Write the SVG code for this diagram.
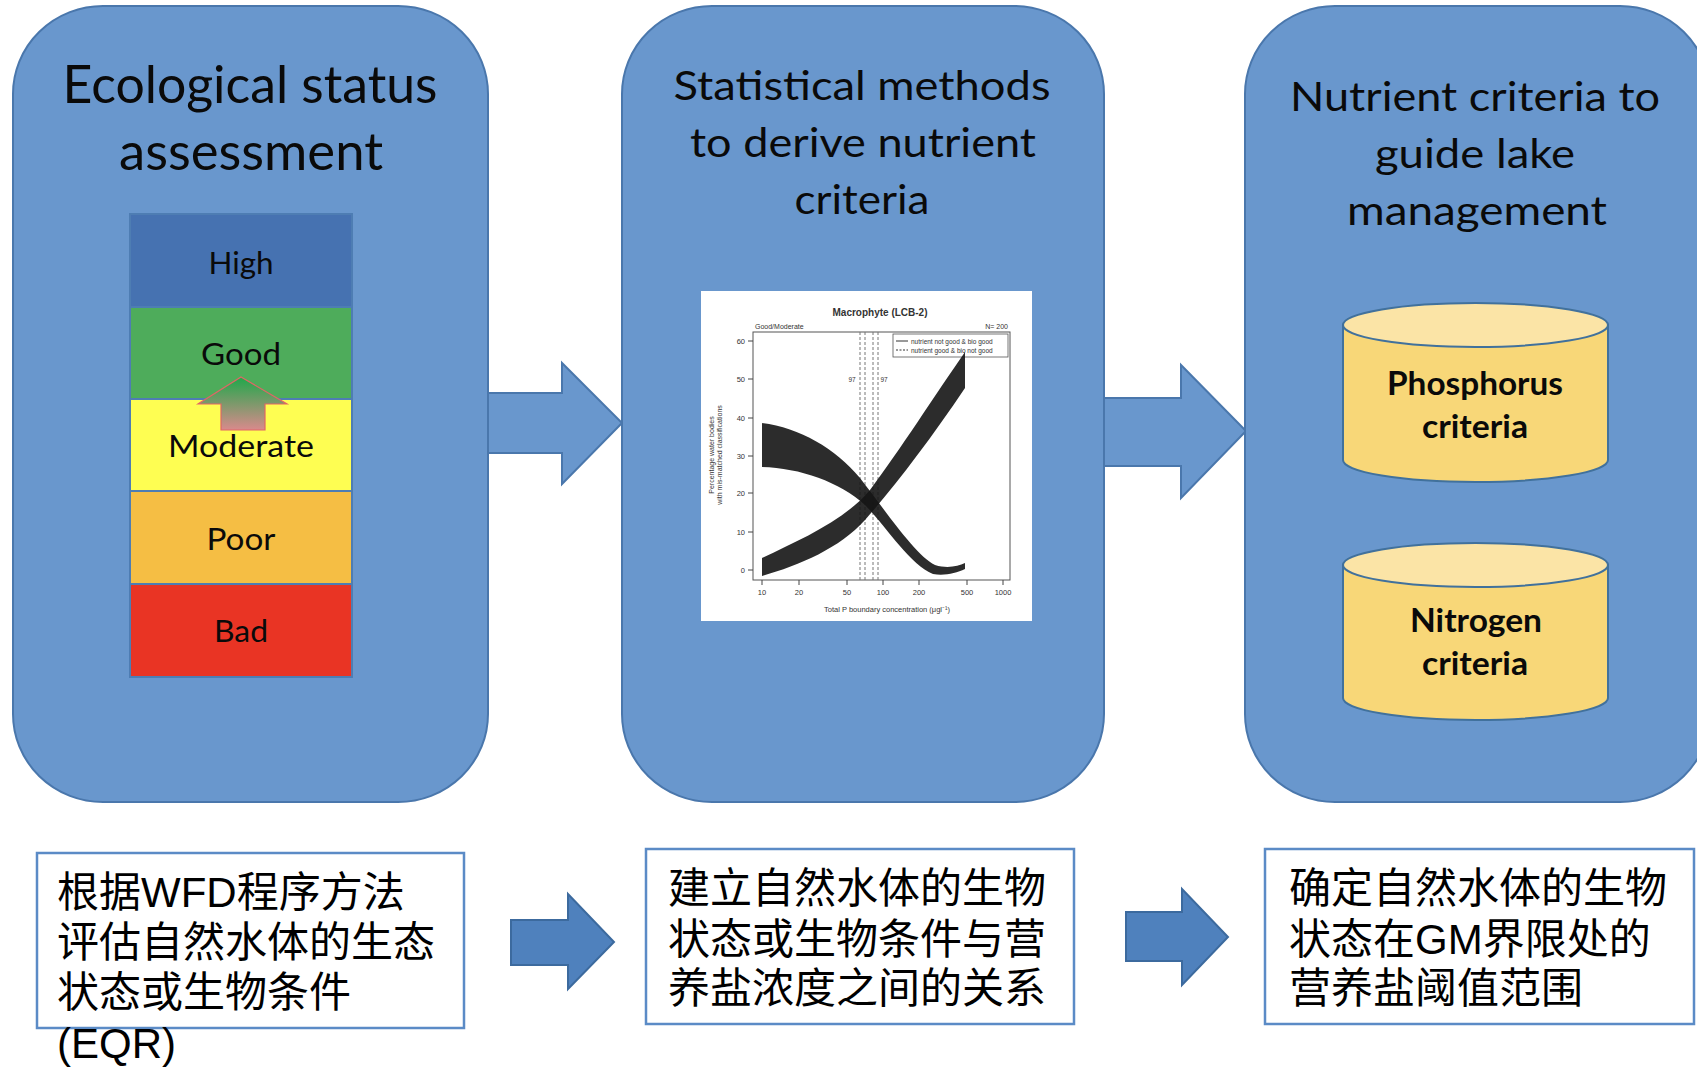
<svg xmlns="http://www.w3.org/2000/svg" width="1697" height="1068" viewBox="0 0 1697 1068">
<defs>
<style>
.box{fill:#6997CD;stroke:#4A77AC;stroke-width:2}
.blk{fill:#6997CD;stroke:#4A77AC;stroke-width:2}
.darr{fill:#4F81BD;stroke:#3C6A9E;stroke-width:2}
.tb{fill:#fff;stroke:#5B8BC6;stroke-width:2.5}
.title{font-family:Lato,'Open Sans','Liberation Sans',sans-serif;fill:#0a0a0a;text-anchor:middle}
.t1{font-size:52px}
.t2{font-size:40px}
.lad{font-family:Lato,'Open Sans','Liberation Sans',sans-serif;font-size:30px;fill:#0a0a0a;text-anchor:middle}
.band{stroke:#4E7DB3;stroke-width:2}
.cyl{fill:#F8D778;stroke:#41719C;stroke-width:2}
.cyltop{fill:#FBE4A6;stroke:#41719C;stroke-width:2}
.cylt{font-family:Lato,'Open Sans','Liberation Sans',sans-serif;font-weight:bold;font-size:33px;fill:#0a0a0a;text-anchor:middle}
.cn{font-family:'Liberation Sans','Noto Sans CJK SC',sans-serif;font-size:42px;fill:#000}
.ch{font-family:'Liberation Sans',Arial,sans-serif;fill:#333}
.tick{stroke:#444;stroke-width:1}
.vl{stroke:#777;stroke-width:1;stroke-dasharray:3 2}
</style>
<linearGradient id="upg" x1="0" y1="0" x2="0" y2="1">
<stop offset="0" stop-color="#1FA84A"/>
<stop offset="1" stop-color="#D98A8C"/>
</linearGradient>
</defs>
<rect width="1697" height="1068" fill="#fff"/>

<g id="connectors">
<polygon class="blk" points="487,393 562,393 562,363 622,423 562,484 562,453 487,453"/>
<polygon class="blk" points="1104,398 1181,398 1181,365 1246,431 1181,498 1181,466 1104,466"/>
<polygon class="darr" points="511,920 568,920 568,894 614,942 568,989 568,965 511,965"/>
<polygon class="darr" points="1126,912 1182,912 1182,889 1228,937 1182,985 1182,961 1126,961"/>
</g>

<g id="node-ecological-status">
<rect class="box" x="13" y="6" width="475" height="796" rx="90" ry="88"/>
<text class="title t1" x="250" y="103" textLength="375" lengthAdjust="spacingAndGlyphs">Ecological status</text>
<text class="title t1" x="251" y="170" textLength="264" lengthAdjust="spacingAndGlyphs">assessment</text>
<g id="status-ladder">
<rect class="band" x="130" y="214" width="222" height="93" fill="#4672B1"/>
<rect class="band" x="130" y="307" width="222" height="92" fill="#4EAC5B"/>
<rect class="band" x="130" y="399" width="222" height="92" fill="#FEFE52"/>
<rect class="band" x="130" y="491" width="222" height="93" fill="#F5BE44"/>
<rect class="band" x="130" y="584" width="222" height="93" fill="#E93424"/>
<text class="lad" x="241" y="274" textLength="65" lengthAdjust="spacingAndGlyphs">High</text>
<text class="lad" x="241" y="365" textLength="80" lengthAdjust="spacingAndGlyphs">Good</text>
<text class="lad" x="241" y="457" textLength="146" lengthAdjust="spacingAndGlyphs">Moderate</text>
<text class="lad" x="241" y="550" textLength="69" lengthAdjust="spacingAndGlyphs">Poor</text>
<text class="lad" x="241" y="642" textLength="54" lengthAdjust="spacingAndGlyphs">Bad</text>
<polygon points="241,377 287,404 265,404 265,430 221,430 221,404 198,404" fill="url(#upg)" stroke="#E06666" stroke-width="1.2"/>
</g>
</g>

<g id="node-statistical-methods">
<rect class="box" x="622" y="6" width="482" height="796" rx="90" ry="88"/>
<text class="title t2" x="862" y="100" textLength="377" lengthAdjust="spacingAndGlyphs">Statistical methods</text>
<text class="title t2" x="863" y="157" textLength="346" lengthAdjust="spacingAndGlyphs">to derive nutrient</text>
<text class="title t2" x="862" y="214" textLength="135" lengthAdjust="spacingAndGlyphs">criteria</text>
<g id="chart">
<rect x="701" y="291" width="331" height="330" fill="#fff"/>
<text class="ch" x="880" y="316" font-size="10" font-weight="bold" text-anchor="middle">Macrophyte (LCB-2)</text>
<rect x="753" y="332" width="257" height="248" fill="none" stroke="#555" stroke-width="1"/>
<text class="ch" x="755" y="329" font-size="7">Good/Moderate</text>
<text class="ch" x="1008" y="329" font-size="7" text-anchor="end">N= 200</text>
<rect x="893" y="334" width="115" height="23" fill="#fff" stroke="#555" stroke-width="0.8"/>
<line x1="896" y1="341" x2="908" y2="341" stroke="#333"/>
<line x1="896" y1="350" x2="908" y2="350" stroke="#333" stroke-dasharray="2 1.5"/>
<text class="ch" x="911" y="343.5" font-size="6.5">nutrient not good &amp; bio good</text>
<text class="ch" x="911" y="352.5" font-size="6.5">nutrient good &amp; bio not good</text>
<line class="vl" x1="860" y1="332" x2="860" y2="580"/>
<line class="vl" x1="865" y1="332" x2="865" y2="580"/>
<line class="vl" x1="873" y1="332" x2="873" y2="580"/>
<line class="vl" x1="878" y1="332" x2="878" y2="580"/>
<text class="ch" x="852" y="382" font-size="6.5" text-anchor="middle">97</text>
<text class="ch" x="884" y="382" font-size="6.5" text-anchor="middle">97</text>
<g class="tick">
<line x1="748" y1="341" x2="753" y2="341"/><line x1="748" y1="379" x2="753" y2="379"/><line x1="748" y1="418" x2="753" y2="418"/><line x1="748" y1="456" x2="753" y2="456"/><line x1="748" y1="493" x2="753" y2="493"/><line x1="748" y1="532" x2="753" y2="532"/><line x1="748" y1="570" x2="753" y2="570"/>
<line x1="762" y1="580" x2="762" y2="585"/><line x1="799" y1="580" x2="799" y2="585"/><line x1="847" y1="580" x2="847" y2="585"/><line x1="883" y1="580" x2="883" y2="585"/><line x1="919" y1="580" x2="919" y2="585"/><line x1="967" y1="580" x2="967" y2="585"/><line x1="1003" y1="580" x2="1003" y2="585"/>
</g>
<g class="ch" font-size="7.5" text-anchor="end">
<text x="745" y="344">60</text><text x="745" y="382">50</text><text x="745" y="421">40</text><text x="745" y="459">30</text><text x="745" y="496">20</text><text x="745" y="535">10</text><text x="745" y="573">0</text>
</g>
<g class="ch" font-size="7.5" text-anchor="middle">
<text x="762" y="595">10</text><text x="799" y="595">20</text><text x="847" y="595">50</text><text x="883" y="595">100</text><text x="919" y="595">200</text><text x="967" y="595">500</text><text x="1003" y="595">1000</text>
</g>
<text class="ch" x="887" y="612" font-size="7.5" text-anchor="middle">Total P boundary concentration (μgl⁻¹)</text>
<text class="ch" font-size="7" text-anchor="middle" transform="translate(714,455) rotate(-90)">Percentage water bodies</text>
<text class="ch" font-size="7" text-anchor="middle" transform="translate(722,455) rotate(-90)">with mis-matched classifications</text>
<path fill="#151515" fill-opacity="0.9" d="M762,423 C800,428 835,448 860,478 C885,510 915,555 935,565 C948,569 958,566 965,563 L965,569 C956,573 945,576 933,574 C910,565 885,525 865,505 C840,482 800,468 762,467 Z"/>
<path fill="#151515" fill-opacity="0.9" d="M762,576 C800,565 840,548 865,520 C895,486 930,440 965,388 L965,352 C935,395 900,450 870,490 C845,520 800,540 762,558 Z"/>
</g>
</g>

<g id="node-nutrient-criteria">
<rect class="box" x="1245" y="6" width="465" height="796" rx="90" ry="88"/>
<text class="title t2" x="1475" y="111" textLength="370" lengthAdjust="spacingAndGlyphs">Nutrient criteria to</text>
<text class="title t2" x="1475" y="168" textLength="200" lengthAdjust="spacingAndGlyphs">guide lake</text>
<text class="title t2" x="1477" y="225" textLength="260" lengthAdjust="spacingAndGlyphs">management</text>
<g id="node-phosphorus">
<path class="cyl" d="M1343,325 L1343,460 A132.5,22 0 0 0 1608,460 L1608,325 Z"/>
<ellipse class="cyltop" cx="1475.5" cy="325" rx="132.5" ry="22"/>
<text class="cylt" x="1475" y="395" textLength="176" lengthAdjust="spacingAndGlyphs">Phosphorus</text>
<text class="cylt" x="1475" y="438" textLength="106" lengthAdjust="spacingAndGlyphs">criteria</text>
</g>
<g id="node-nitrogen">
<path class="cyl" d="M1343,565 L1343,698 A132.5,22 0 0 0 1608,698 L1608,565 Z"/>
<ellipse class="cyltop" cx="1475.5" cy="565" rx="132.5" ry="22"/>
<text class="cylt" x="1476" y="632" textLength="132" lengthAdjust="spacingAndGlyphs">Nitrogen</text>
<text class="cylt" x="1475" y="675" textLength="106" lengthAdjust="spacingAndGlyphs">criteria</text>
</g>
</g>

<g id="node-cn-assess">
<rect class="tb" x="37" y="853" width="427" height="175"/>
<text class="cn" x="57" y="907">根据WFD程序方法</text>
<text class="cn" x="57" y="957">评估自然水体的生态</text>
<text class="cn" x="57" y="1007">状态或生物条件</text>
<text class="cn" x="57" y="1058">(EQR)</text>
</g>
<g id="node-cn-relation">
<rect class="tb" x="646" y="849" width="428" height="175"/>
<text class="cn" x="668" y="903">建立自然水体的生物</text>
<text class="cn" x="668" y="954">状态或生物条件与营</text>
<text class="cn" x="668" y="1003">养盐浓度之间的关系</text>
</g>
<g id="node-cn-threshold">
<rect class="tb" x="1265" y="849" width="429" height="175"/>
<text class="cn" x="1289" y="903">确定自然水体的生物</text>
<text class="cn" x="1289" y="954">状态在GM界限处的</text>
<text class="cn" x="1289" y="1003">营养盐阈值范围</text>
</g>
</svg>
